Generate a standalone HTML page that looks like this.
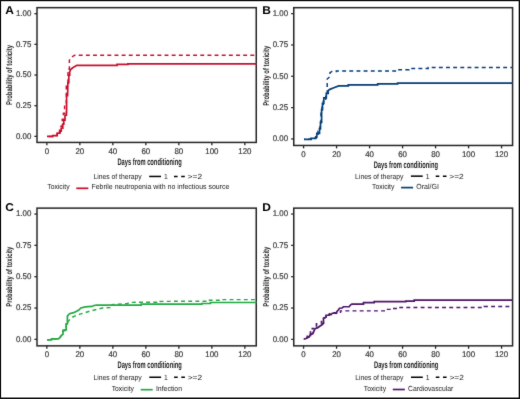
<!DOCTYPE html>
<html><head><meta charset="utf-8"><title>Cumulative incidence of toxicity</title>
<style>
html,body{margin:0;padding:0;background:#fff;}
body{width:520px;height:399px;overflow:hidden;}
svg{display:block;will-change:transform;}
text{font-family:"Liberation Sans", sans-serif;text-rendering:geometricPrecision;}
</style></head><body>
<svg width="520" height="399" viewBox="0 0 520 399">
<defs><filter id="soft" x="-5%" y="-5%" width="110%" height="110%"><feConvolveMatrix order="3" kernelMatrix="0.0150 0.0600 0.0150 0.0600 0.7000 0.0600 0.0150 0.0600 0.0150" divisor="1" preserveAlpha="false" edgeMode="none"/></filter></defs>
<rect x="0" y="0" width="520" height="399" fill="#fff"/>
<g filter="url(#soft)">
<g id="panelA">
<rect x="37.00" y="7.68" width="219.25" height="134.76" fill="none" stroke="#262626" stroke-width="1.5"/>
<line x1="34.40" y1="136.37" x2="37.00" y2="136.37" stroke="#262626" stroke-width="1.3"/>
<text x="31.30" y="138.67" font-size="8.3" fill="#383838" stroke="#383838" stroke-width="0.2" text-anchor="end" transform="translate(31.30,0) scale(0.95,1) translate(-31.30,0)">0.00</text>
<line x1="34.40" y1="105.70" x2="37.00" y2="105.70" stroke="#262626" stroke-width="1.3"/>
<text x="31.30" y="108.00" font-size="8.3" fill="#383838" stroke="#383838" stroke-width="0.2" text-anchor="end" transform="translate(31.30,0) scale(0.95,1) translate(-31.30,0)">0.25</text>
<line x1="34.40" y1="75.03" x2="37.00" y2="75.03" stroke="#262626" stroke-width="1.3"/>
<text x="31.30" y="77.33" font-size="8.3" fill="#383838" stroke="#383838" stroke-width="0.2" text-anchor="end" transform="translate(31.30,0) scale(0.95,1) translate(-31.30,0)">0.50</text>
<line x1="34.40" y1="44.37" x2="37.00" y2="44.37" stroke="#262626" stroke-width="1.3"/>
<text x="31.30" y="46.67" font-size="8.3" fill="#383838" stroke="#383838" stroke-width="0.2" text-anchor="end" transform="translate(31.30,0) scale(0.95,1) translate(-31.30,0)">0.75</text>
<line x1="34.40" y1="13.70" x2="37.00" y2="13.70" stroke="#262626" stroke-width="1.3"/>
<text x="31.30" y="16.00" font-size="8.3" fill="#383838" stroke="#383838" stroke-width="0.2" text-anchor="end" transform="translate(31.30,0) scale(0.95,1) translate(-31.30,0)">1.00</text>
<line x1="46.85" y1="142.44" x2="46.85" y2="145.34" stroke="#262626" stroke-width="1.3"/>
<text x="46.85" y="154.04" font-size="8.3" fill="#383838" stroke="#383838" stroke-width="0.2" text-anchor="middle" transform="translate(46.85,0) scale(0.95,1) translate(-46.85,0)">0</text>
<line x1="79.85" y1="142.44" x2="79.85" y2="145.34" stroke="#262626" stroke-width="1.3"/>
<text x="79.85" y="154.04" font-size="8.3" fill="#383838" stroke="#383838" stroke-width="0.2" text-anchor="middle" transform="translate(79.85,0) scale(0.95,1) translate(-79.85,0)">20</text>
<line x1="112.85" y1="142.44" x2="112.85" y2="145.34" stroke="#262626" stroke-width="1.3"/>
<text x="112.85" y="154.04" font-size="8.3" fill="#383838" stroke="#383838" stroke-width="0.2" text-anchor="middle" transform="translate(112.85,0) scale(0.95,1) translate(-112.85,0)">40</text>
<line x1="145.85" y1="142.44" x2="145.85" y2="145.34" stroke="#262626" stroke-width="1.3"/>
<text x="145.85" y="154.04" font-size="8.3" fill="#383838" stroke="#383838" stroke-width="0.2" text-anchor="middle" transform="translate(145.85,0) scale(0.95,1) translate(-145.85,0)">60</text>
<line x1="178.85" y1="142.44" x2="178.85" y2="145.34" stroke="#262626" stroke-width="1.3"/>
<text x="178.85" y="154.04" font-size="8.3" fill="#383838" stroke="#383838" stroke-width="0.2" text-anchor="middle" transform="translate(178.85,0) scale(0.95,1) translate(-178.85,0)">80</text>
<line x1="211.85" y1="142.44" x2="211.85" y2="145.34" stroke="#262626" stroke-width="1.3"/>
<text x="211.85" y="154.04" font-size="8.3" fill="#383838" stroke="#383838" stroke-width="0.2" text-anchor="middle" transform="translate(211.85,0) scale(0.95,1) translate(-211.85,0)">100</text>
<line x1="244.85" y1="142.44" x2="244.85" y2="145.34" stroke="#262626" stroke-width="1.3"/>
<text x="244.85" y="154.04" font-size="8.3" fill="#383838" stroke="#383838" stroke-width="0.2" text-anchor="middle" transform="translate(244.85,0) scale(0.95,1) translate(-244.85,0)">120</text>
<text transform="translate(11.85,75.03) rotate(-90) scale(0.705,1)" font-size="8.4" font-weight="bold" fill="#1a1a1a" text-anchor="middle">Probability of toxicity</text>
<text transform="translate(5.20,13.60) scale(1.06,1)" font-size="11.3" font-weight="bold" fill="#000">A</text>
<path d="M47.00,136.40 L52.80,136.40 L52.80,135.60 L57.20,135.60 L57.20,133.20 L60.00,133.20 L60.00,131.20 L61.20,131.20 L61.20,128.20 L62.80,128.20 L62.80,124.20 L63.80,124.20 L63.80,120.20 L65.00,120.20 L65.00,115.20 L66.40,115.20 L66.40,112.20 L66.60,112.20 L66.60,95.70 L67.60,95.70 L67.90,82.60 L68.80,82.60 L68.80,75.20 L69.70,75.20 L69.70,71.90 L70.50,69.70 L71.90,68.50 L73.50,67.20 L75.30,66.30 L76.70,65.40 L117.10,65.40 L117.10,64.30 L127.90,64.30 L127.90,63.90 L256.50,63.90" fill="none" stroke="#c8102e" stroke-width="1.7" stroke-linejoin="miter"/>
<path d="M47.00,136.40 L52.80,136.40 L52.80,135.60 L57.00,135.60 L57.00,133.20 L59.50,133.20 L59.50,130.20 L61.00,130.20 L61.00,126.20 L62.30,126.20 L62.30,119.20 L63.40,119.20 L63.40,113.20 L64.60,113.20 L64.60,106.20 L66.30,106.20 L66.30,84.20 L68.00,82.60 L68.00,69.20 L69.40,69.20 L69.40,60.20 L70.50,58.20 L71.90,56.90 L74.00,55.70 L75.00,55.30 L256.50,55.30" fill="none" stroke="#c8102e" stroke-width="1.45" stroke-dasharray="3.9 3.25" stroke-dashoffset="-1.825"/>
<text transform="translate(117.40,164.70) scale(0.60,1)" font-size="9.6" font-weight="bold" fill="#1a1a1a">Days from conditioning</text>
<text transform="translate(93.40,179.20) scale(0.9176,1)" font-size="7.4" fill="#1a1a1a">Lines of therapy</text>
<line x1="149.20" y1="176.45" x2="161.00" y2="176.45" stroke="#000" stroke-width="1.5"/>
<text transform="translate(164.00,179.20) scale(0.9176,1)" font-size="7.4" fill="#1a1a1a">1</text>
<line x1="174.00" y1="176.45" x2="185.80" y2="176.45" stroke="#000" stroke-width="1.5" stroke-dasharray="3.6 3.6"/>
<text transform="translate(187.60,179.20) scale(1.1351,1)" font-size="7.4" fill="#1a1a1a">&gt;=2</text>
<text transform="translate(47.30,189.00) scale(0.9176,1)" font-size="7.4" fill="#1a1a1a">Toxicity</text>
<line x1="76.30" y1="188.30" x2="88.30" y2="188.30" stroke="#c8102e" stroke-width="1.7"/>
<text transform="translate(91.50,189.00) scale(0.9393,1)" font-size="7.4" fill="#1a1a1a">Febrile neutropenia with no infectious source</text>
</g>
<g id="panelB">
<rect x="293.76" y="7.69" width="218.80" height="137.78" fill="none" stroke="#262626" stroke-width="1.5"/>
<line x1="291.16" y1="138.96" x2="293.76" y2="138.96" stroke="#262626" stroke-width="1.3"/>
<text x="288.06" y="141.26" font-size="8.3" fill="#383838" stroke="#383838" stroke-width="0.2" text-anchor="end" transform="translate(288.06,0) scale(0.95,1) translate(-288.06,0)">0.00</text>
<line x1="291.16" y1="107.63" x2="293.76" y2="107.63" stroke="#262626" stroke-width="1.3"/>
<text x="288.06" y="109.93" font-size="8.3" fill="#383838" stroke="#383838" stroke-width="0.2" text-anchor="end" transform="translate(288.06,0) scale(0.95,1) translate(-288.06,0)">0.25</text>
<line x1="291.16" y1="76.30" x2="293.76" y2="76.30" stroke="#262626" stroke-width="1.3"/>
<text x="288.06" y="78.60" font-size="8.3" fill="#383838" stroke="#383838" stroke-width="0.2" text-anchor="end" transform="translate(288.06,0) scale(0.95,1) translate(-288.06,0)">0.50</text>
<line x1="291.16" y1="44.97" x2="293.76" y2="44.97" stroke="#262626" stroke-width="1.3"/>
<text x="288.06" y="47.27" font-size="8.3" fill="#383838" stroke="#383838" stroke-width="0.2" text-anchor="end" transform="translate(288.06,0) scale(0.95,1) translate(-288.06,0)">0.75</text>
<line x1="291.16" y1="13.64" x2="293.76" y2="13.64" stroke="#262626" stroke-width="1.3"/>
<text x="288.06" y="15.94" font-size="8.3" fill="#383838" stroke="#383838" stroke-width="0.2" text-anchor="end" transform="translate(288.06,0) scale(0.95,1) translate(-288.06,0)">1.00</text>
<line x1="303.57" y1="145.47" x2="303.57" y2="148.37" stroke="#262626" stroke-width="1.3"/>
<text x="303.57" y="157.07" font-size="8.3" fill="#383838" stroke="#383838" stroke-width="0.2" text-anchor="middle" transform="translate(303.57,0) scale(0.95,1) translate(-303.57,0)">0</text>
<line x1="336.57" y1="145.47" x2="336.57" y2="148.37" stroke="#262626" stroke-width="1.3"/>
<text x="336.57" y="157.07" font-size="8.3" fill="#383838" stroke="#383838" stroke-width="0.2" text-anchor="middle" transform="translate(336.57,0) scale(0.95,1) translate(-336.57,0)">20</text>
<line x1="369.57" y1="145.47" x2="369.57" y2="148.37" stroke="#262626" stroke-width="1.3"/>
<text x="369.57" y="157.07" font-size="8.3" fill="#383838" stroke="#383838" stroke-width="0.2" text-anchor="middle" transform="translate(369.57,0) scale(0.95,1) translate(-369.57,0)">40</text>
<line x1="402.57" y1="145.47" x2="402.57" y2="148.37" stroke="#262626" stroke-width="1.3"/>
<text x="402.57" y="157.07" font-size="8.3" fill="#383838" stroke="#383838" stroke-width="0.2" text-anchor="middle" transform="translate(402.57,0) scale(0.95,1) translate(-402.57,0)">60</text>
<line x1="435.57" y1="145.47" x2="435.57" y2="148.37" stroke="#262626" stroke-width="1.3"/>
<text x="435.57" y="157.07" font-size="8.3" fill="#383838" stroke="#383838" stroke-width="0.2" text-anchor="middle" transform="translate(435.57,0) scale(0.95,1) translate(-435.57,0)">80</text>
<line x1="468.57" y1="145.47" x2="468.57" y2="148.37" stroke="#262626" stroke-width="1.3"/>
<text x="468.57" y="157.07" font-size="8.3" fill="#383838" stroke="#383838" stroke-width="0.2" text-anchor="middle" transform="translate(468.57,0) scale(0.95,1) translate(-468.57,0)">100</text>
<line x1="501.57" y1="145.47" x2="501.57" y2="148.37" stroke="#262626" stroke-width="1.3"/>
<text x="501.57" y="157.07" font-size="8.3" fill="#383838" stroke="#383838" stroke-width="0.2" text-anchor="middle" transform="translate(501.57,0) scale(0.95,1) translate(-501.57,0)">120</text>
<text transform="translate(268.61,75.80) rotate(-90) scale(0.705,1)" font-size="8.4" font-weight="bold" fill="#1a1a1a" text-anchor="middle">Probability of toxicity</text>
<text transform="translate(262.30,13.60) scale(1.06,1)" font-size="11.3" font-weight="bold" fill="#000">B</text>
<path d="M304.00,139.30 L311.00,139.30 L311.00,138.30 L315.80,138.30 L315.80,137.20 L316.80,137.20 L316.80,133.40 L319.50,133.40 L319.50,128.60 L320.50,128.60 L320.50,122.20 L321.60,122.20 L321.60,109.70 L322.50,109.70 L322.50,103.40 L323.80,103.40 L323.80,97.80 L326.30,97.80 L326.30,93.40 L328.20,93.40 L328.20,90.70 L329.40,89.60 L333.80,87.80 L338.80,85.90 L348.30,85.90 L348.30,84.80 L377.70,84.80 L377.70,83.90 L397.60,83.90 L397.60,83.10 L512.60,83.10" fill="none" stroke="#073e77" stroke-width="1.7" stroke-linejoin="miter"/>
<path d="M304.00,139.30 L311.00,139.30 L311.00,138.30 L315.80,138.30 L315.80,135.50 L318.00,135.50 L318.00,131.20 L320.00,131.20 L320.00,124.20 L321.00,124.20 L321.00,112.20 L322.00,112.20 L322.00,104.20 L323.30,104.20 L323.30,99.20 L325.70,99.20 L325.70,95.20 L327.20,95.20 L327.20,79.00 L330.00,76.50 L330.00,72.70 L331.90,71.50 L336.30,71.50 L336.30,70.90 L397.00,70.90 L397.00,69.70 L409.00,69.70 L409.00,68.50 L428.20,68.50 L428.20,67.50 L512.60,67.50" fill="none" stroke="#073e77" stroke-width="1.45" stroke-dasharray="3.9 3.25" stroke-dashoffset="3.075"/>
<text transform="translate(373.70,167.90) scale(0.60,1)" font-size="9.6" font-weight="bold" fill="#1a1a1a">Days from conditioning</text>
<text transform="translate(355.10,178.90) scale(0.9176,1)" font-size="7.4" fill="#1a1a1a">Lines of therapy</text>
<line x1="410.90" y1="176.15" x2="422.70" y2="176.15" stroke="#000" stroke-width="1.5"/>
<text transform="translate(425.70,178.90) scale(0.9176,1)" font-size="7.4" fill="#1a1a1a">1</text>
<line x1="435.70" y1="176.15" x2="447.50" y2="176.15" stroke="#000" stroke-width="1.5" stroke-dasharray="3.6 3.6"/>
<text transform="translate(449.30,178.90) scale(1.1351,1)" font-size="7.4" fill="#1a1a1a">&gt;=2</text>
<text transform="translate(372.10,189.00) scale(0.9176,1)" font-size="7.4" fill="#1a1a1a">Toxicity</text>
<line x1="401.10" y1="187.60" x2="413.10" y2="187.60" stroke="#073e77" stroke-width="1.7"/>
<text transform="translate(416.30,189.00) scale(0.9459,1)" font-size="7.4" fill="#1a1a1a">Oral/GI</text>
</g>
<g id="panelC">
<rect x="37.00" y="208.13" width="219.25" height="137.72" fill="none" stroke="#262626" stroke-width="1.5"/>
<line x1="34.40" y1="339.38" x2="37.00" y2="339.38" stroke="#262626" stroke-width="1.3"/>
<text x="31.30" y="341.68" font-size="8.3" fill="#383838" stroke="#383838" stroke-width="0.2" text-anchor="end" transform="translate(31.30,0) scale(0.95,1) translate(-31.30,0)">0.00</text>
<line x1="34.40" y1="308.04" x2="37.00" y2="308.04" stroke="#262626" stroke-width="1.3"/>
<text x="31.30" y="310.34" font-size="8.3" fill="#383838" stroke="#383838" stroke-width="0.2" text-anchor="end" transform="translate(31.30,0) scale(0.95,1) translate(-31.30,0)">0.25</text>
<line x1="34.40" y1="276.70" x2="37.00" y2="276.70" stroke="#262626" stroke-width="1.3"/>
<text x="31.30" y="279.00" font-size="8.3" fill="#383838" stroke="#383838" stroke-width="0.2" text-anchor="end" transform="translate(31.30,0) scale(0.95,1) translate(-31.30,0)">0.50</text>
<line x1="34.40" y1="245.37" x2="37.00" y2="245.37" stroke="#262626" stroke-width="1.3"/>
<text x="31.30" y="247.67" font-size="8.3" fill="#383838" stroke="#383838" stroke-width="0.2" text-anchor="end" transform="translate(31.30,0) scale(0.95,1) translate(-31.30,0)">0.75</text>
<line x1="34.40" y1="214.03" x2="37.00" y2="214.03" stroke="#262626" stroke-width="1.3"/>
<text x="31.30" y="216.33" font-size="8.3" fill="#383838" stroke="#383838" stroke-width="0.2" text-anchor="end" transform="translate(31.30,0) scale(0.95,1) translate(-31.30,0)">1.00</text>
<line x1="46.85" y1="345.85" x2="46.85" y2="348.75" stroke="#262626" stroke-width="1.3"/>
<text x="46.85" y="357.45" font-size="8.3" fill="#383838" stroke="#383838" stroke-width="0.2" text-anchor="middle" transform="translate(46.85,0) scale(0.95,1) translate(-46.85,0)">0</text>
<line x1="79.85" y1="345.85" x2="79.85" y2="348.75" stroke="#262626" stroke-width="1.3"/>
<text x="79.85" y="357.45" font-size="8.3" fill="#383838" stroke="#383838" stroke-width="0.2" text-anchor="middle" transform="translate(79.85,0) scale(0.95,1) translate(-79.85,0)">20</text>
<line x1="112.85" y1="345.85" x2="112.85" y2="348.75" stroke="#262626" stroke-width="1.3"/>
<text x="112.85" y="357.45" font-size="8.3" fill="#383838" stroke="#383838" stroke-width="0.2" text-anchor="middle" transform="translate(112.85,0) scale(0.95,1) translate(-112.85,0)">40</text>
<line x1="145.85" y1="345.85" x2="145.85" y2="348.75" stroke="#262626" stroke-width="1.3"/>
<text x="145.85" y="357.45" font-size="8.3" fill="#383838" stroke="#383838" stroke-width="0.2" text-anchor="middle" transform="translate(145.85,0) scale(0.95,1) translate(-145.85,0)">60</text>
<line x1="178.85" y1="345.85" x2="178.85" y2="348.75" stroke="#262626" stroke-width="1.3"/>
<text x="178.85" y="357.45" font-size="8.3" fill="#383838" stroke="#383838" stroke-width="0.2" text-anchor="middle" transform="translate(178.85,0) scale(0.95,1) translate(-178.85,0)">80</text>
<line x1="211.85" y1="345.85" x2="211.85" y2="348.75" stroke="#262626" stroke-width="1.3"/>
<text x="211.85" y="357.45" font-size="8.3" fill="#383838" stroke="#383838" stroke-width="0.2" text-anchor="middle" transform="translate(211.85,0) scale(0.95,1) translate(-211.85,0)">100</text>
<line x1="244.85" y1="345.85" x2="244.85" y2="348.75" stroke="#262626" stroke-width="1.3"/>
<text x="244.85" y="357.45" font-size="8.3" fill="#383838" stroke="#383838" stroke-width="0.2" text-anchor="middle" transform="translate(244.85,0) scale(0.95,1) translate(-244.85,0)">120</text>
<text transform="translate(11.85,276.70) rotate(-90) scale(0.705,1)" font-size="8.4" font-weight="bold" fill="#1a1a1a" text-anchor="middle">Probability of toxicity</text>
<text transform="translate(5.30,211.10) scale(1.06,1)" font-size="11.3" font-weight="bold" fill="#000">C</text>
<path d="M47.20,339.80 L51.50,339.80 L51.50,338.90 L58.50,338.90 L60.00,337.40 L61.50,335.40 L63.00,334.40 L63.00,330.40 L65.00,330.40 L65.00,329.90 L66.20,329.90 L66.20,323.90 L67.40,323.90 L67.40,316.10 L69.40,313.70 L73.70,312.70 L78.50,310.30 L80.90,307.90 L85.20,306.90 L92.00,306.40 L93.90,305.50 L96.80,305.20 L141.20,305.20 L141.20,304.20 L201.90,304.20 L201.90,303.50 L210.40,303.50 L210.40,302.50 L256.50,302.50" fill="none" stroke="#28a844" stroke-width="1.7" stroke-linejoin="miter"/>
<path d="M47.20,339.80 L51.50,339.80 L51.50,338.90 L58.50,338.90 L60.00,337.40 L61.50,335.40 L63.00,334.40 L63.00,330.40 L65.00,330.40 L65.00,329.90 L66.20,329.90 L66.20,323.90 L67.70,323.90 L68.00,321.40 L71.80,317.50 L75.60,315.60 L80.00,314.15 L85.20,312.70 L91.00,310.80 L96.80,309.40 L102.50,308.00 L109.60,307.60 L112.00,307.60 L112.00,304.60 L127.00,303.70 L130.00,302.40 L141.00,302.20 L160.00,302.20 L160.00,301.40 L207.70,301.20 L207.70,300.20 L222.30,300.20 L222.30,299.60 L256.50,299.60" fill="none" stroke="#28a844" stroke-width="1.45" stroke-dasharray="3.9 3.25" stroke-dashoffset="0.575"/>
<text transform="translate(117.50,368.00) scale(0.60,1)" font-size="9.6" font-weight="bold" fill="#1a1a1a">Days from conditioning</text>
<text transform="translate(93.50,380.00) scale(0.9176,1)" font-size="7.4" fill="#1a1a1a">Lines of therapy</text>
<line x1="149.30" y1="377.25" x2="161.10" y2="377.25" stroke="#000" stroke-width="1.5"/>
<text transform="translate(164.10,380.00) scale(0.9176,1)" font-size="7.4" fill="#1a1a1a">1</text>
<line x1="174.10" y1="377.25" x2="185.90" y2="377.25" stroke="#000" stroke-width="1.5" stroke-dasharray="3.6 3.6"/>
<text transform="translate(187.70,380.00) scale(1.1351,1)" font-size="7.4" fill="#1a1a1a">&gt;=2</text>
<text transform="translate(111.70,391.00) scale(0.9176,1)" font-size="7.4" fill="#1a1a1a">Toxicity</text>
<line x1="140.70" y1="389.70" x2="152.70" y2="389.70" stroke="#28a844" stroke-width="1.7"/>
<text transform="translate(155.90,391.00) scale(0.9365,1)" font-size="7.4" fill="#1a1a1a">Infection</text>
</g>
<g id="panelD">
<rect x="293.76" y="208.13" width="218.80" height="137.72" fill="none" stroke="#262626" stroke-width="1.5"/>
<line x1="291.16" y1="339.38" x2="293.76" y2="339.38" stroke="#262626" stroke-width="1.3"/>
<text x="288.06" y="341.68" font-size="8.3" fill="#383838" stroke="#383838" stroke-width="0.2" text-anchor="end" transform="translate(288.06,0) scale(0.95,1) translate(-288.06,0)">0.00</text>
<line x1="291.16" y1="308.04" x2="293.76" y2="308.04" stroke="#262626" stroke-width="1.3"/>
<text x="288.06" y="310.34" font-size="8.3" fill="#383838" stroke="#383838" stroke-width="0.2" text-anchor="end" transform="translate(288.06,0) scale(0.95,1) translate(-288.06,0)">0.25</text>
<line x1="291.16" y1="276.70" x2="293.76" y2="276.70" stroke="#262626" stroke-width="1.3"/>
<text x="288.06" y="279.00" font-size="8.3" fill="#383838" stroke="#383838" stroke-width="0.2" text-anchor="end" transform="translate(288.06,0) scale(0.95,1) translate(-288.06,0)">0.50</text>
<line x1="291.16" y1="245.37" x2="293.76" y2="245.37" stroke="#262626" stroke-width="1.3"/>
<text x="288.06" y="247.67" font-size="8.3" fill="#383838" stroke="#383838" stroke-width="0.2" text-anchor="end" transform="translate(288.06,0) scale(0.95,1) translate(-288.06,0)">0.75</text>
<line x1="291.16" y1="214.03" x2="293.76" y2="214.03" stroke="#262626" stroke-width="1.3"/>
<text x="288.06" y="216.33" font-size="8.3" fill="#383838" stroke="#383838" stroke-width="0.2" text-anchor="end" transform="translate(288.06,0) scale(0.95,1) translate(-288.06,0)">1.00</text>
<line x1="303.57" y1="345.85" x2="303.57" y2="348.75" stroke="#262626" stroke-width="1.3"/>
<text x="303.57" y="357.45" font-size="8.3" fill="#383838" stroke="#383838" stroke-width="0.2" text-anchor="middle" transform="translate(303.57,0) scale(0.95,1) translate(-303.57,0)">0</text>
<line x1="336.57" y1="345.85" x2="336.57" y2="348.75" stroke="#262626" stroke-width="1.3"/>
<text x="336.57" y="357.45" font-size="8.3" fill="#383838" stroke="#383838" stroke-width="0.2" text-anchor="middle" transform="translate(336.57,0) scale(0.95,1) translate(-336.57,0)">20</text>
<line x1="369.57" y1="345.85" x2="369.57" y2="348.75" stroke="#262626" stroke-width="1.3"/>
<text x="369.57" y="357.45" font-size="8.3" fill="#383838" stroke="#383838" stroke-width="0.2" text-anchor="middle" transform="translate(369.57,0) scale(0.95,1) translate(-369.57,0)">40</text>
<line x1="402.57" y1="345.85" x2="402.57" y2="348.75" stroke="#262626" stroke-width="1.3"/>
<text x="402.57" y="357.45" font-size="8.3" fill="#383838" stroke="#383838" stroke-width="0.2" text-anchor="middle" transform="translate(402.57,0) scale(0.95,1) translate(-402.57,0)">60</text>
<line x1="435.57" y1="345.85" x2="435.57" y2="348.75" stroke="#262626" stroke-width="1.3"/>
<text x="435.57" y="357.45" font-size="8.3" fill="#383838" stroke="#383838" stroke-width="0.2" text-anchor="middle" transform="translate(435.57,0) scale(0.95,1) translate(-435.57,0)">80</text>
<line x1="468.57" y1="345.85" x2="468.57" y2="348.75" stroke="#262626" stroke-width="1.3"/>
<text x="468.57" y="357.45" font-size="8.3" fill="#383838" stroke="#383838" stroke-width="0.2" text-anchor="middle" transform="translate(468.57,0) scale(0.95,1) translate(-468.57,0)">100</text>
<line x1="501.57" y1="345.85" x2="501.57" y2="348.75" stroke="#262626" stroke-width="1.3"/>
<text x="501.57" y="357.45" font-size="8.3" fill="#383838" stroke="#383838" stroke-width="0.2" text-anchor="middle" transform="translate(501.57,0) scale(0.95,1) translate(-501.57,0)">120</text>
<text transform="translate(268.61,276.70) rotate(-90) scale(0.705,1)" font-size="8.4" font-weight="bold" fill="#1a1a1a" text-anchor="middle">Probability of toxicity</text>
<text transform="translate(262.30,211.10) scale(1.06,1)" font-size="11.3" font-weight="bold" fill="#000">D</text>
<path d="M303.70,339.05 L306.00,338.55 L307.30,337.65 L309.10,336.85 L310.50,334.45 L312.90,333.55 L313.80,331.25 L315.00,328.85 L318.00,327.45 L321.50,325.05 L323.50,323.25 L323.50,318.25 L326.00,317.25 L326.00,315.25 L329.00,315.25 L329.50,313.95 L331.00,314.75 L332.00,313.55 L334.50,312.85 L336.00,313.25 L337.00,311.55 L338.50,309.75 L339.50,308.25 L342.00,308.00 L343.50,306.75 L349.20,306.65 L350.40,305.05 L351.90,304.05 L363.50,304.05 L363.50,302.55 L374.20,302.55 L374.20,301.65 L405.80,301.65 L405.80,301.05 L414.20,301.05 L414.20,300.15 L512.56,300.15" fill="none" stroke="#4c1469" stroke-width="1.7" stroke-linejoin="miter"/>
<path d="M303.70,339.05 L306.00,338.55 L307.30,337.65 L309.10,336.85 L310.50,334.45 L312.90,333.55 L313.80,331.25 L315.00,328.85 L318.00,327.45 L321.50,325.05 L323.50,323.25 L323.50,318.25 L326.00,317.25 L326.00,315.25 L329.00,315.25 L329.50,313.95 L331.00,314.75 L332.00,313.55 L334.50,312.85 L336.00,313.25 L340.50,313.25 L340.50,310.85 L385.80,310.85 L385.80,309.35 L392.00,309.35 L392.00,308.45 L400.00,308.45 L400.00,307.45 L484.00,307.45 L484.00,306.45 L512.56,306.45" fill="none" stroke="#4c1469" stroke-width="1.45" stroke-dasharray="3.9 3.25" stroke-dashoffset="-2.725"/>
<path d="M307.3,338 V335.2 M310.5,336 V331 M311.5,328.4 H314.5 M316.5,326.5 V322.7 M321.5,323.5 V320.6" transform="translate(0,0.25)" fill="none" stroke="#4c1469" stroke-width="1.7"/>
<text transform="translate(374.00,368.00) scale(0.60,1)" font-size="9.6" font-weight="bold" fill="#1a1a1a">Days from conditioning</text>
<text transform="translate(355.20,380.00) scale(0.9176,1)" font-size="7.4" fill="#1a1a1a">Lines of therapy</text>
<line x1="411.00" y1="377.25" x2="422.80" y2="377.25" stroke="#000" stroke-width="1.5"/>
<text transform="translate(425.80,380.00) scale(0.9176,1)" font-size="7.4" fill="#1a1a1a">1</text>
<line x1="435.80" y1="377.25" x2="447.60" y2="377.25" stroke="#000" stroke-width="1.5" stroke-dasharray="3.6 3.6"/>
<text transform="translate(449.40,380.00) scale(1.1351,1)" font-size="7.4" fill="#1a1a1a">&gt;=2</text>
<text transform="translate(363.80,391.00) scale(0.9176,1)" font-size="7.4" fill="#1a1a1a">Toxicity</text>
<line x1="392.80" y1="389.50" x2="404.80" y2="389.50" stroke="#4c1469" stroke-width="1.7"/>
<text transform="translate(408.00,391.00) scale(0.9176,1)" font-size="7.4" fill="#1a1a1a">Cardiovascular</text>
</g>
</g>
<path d="M0,0 H520 V399 H0 Z M1.15,1.15 V397.55 H518.65 V1.15 Z" fill="#141414" fill-rule="evenodd"/></svg>
</body></html>
